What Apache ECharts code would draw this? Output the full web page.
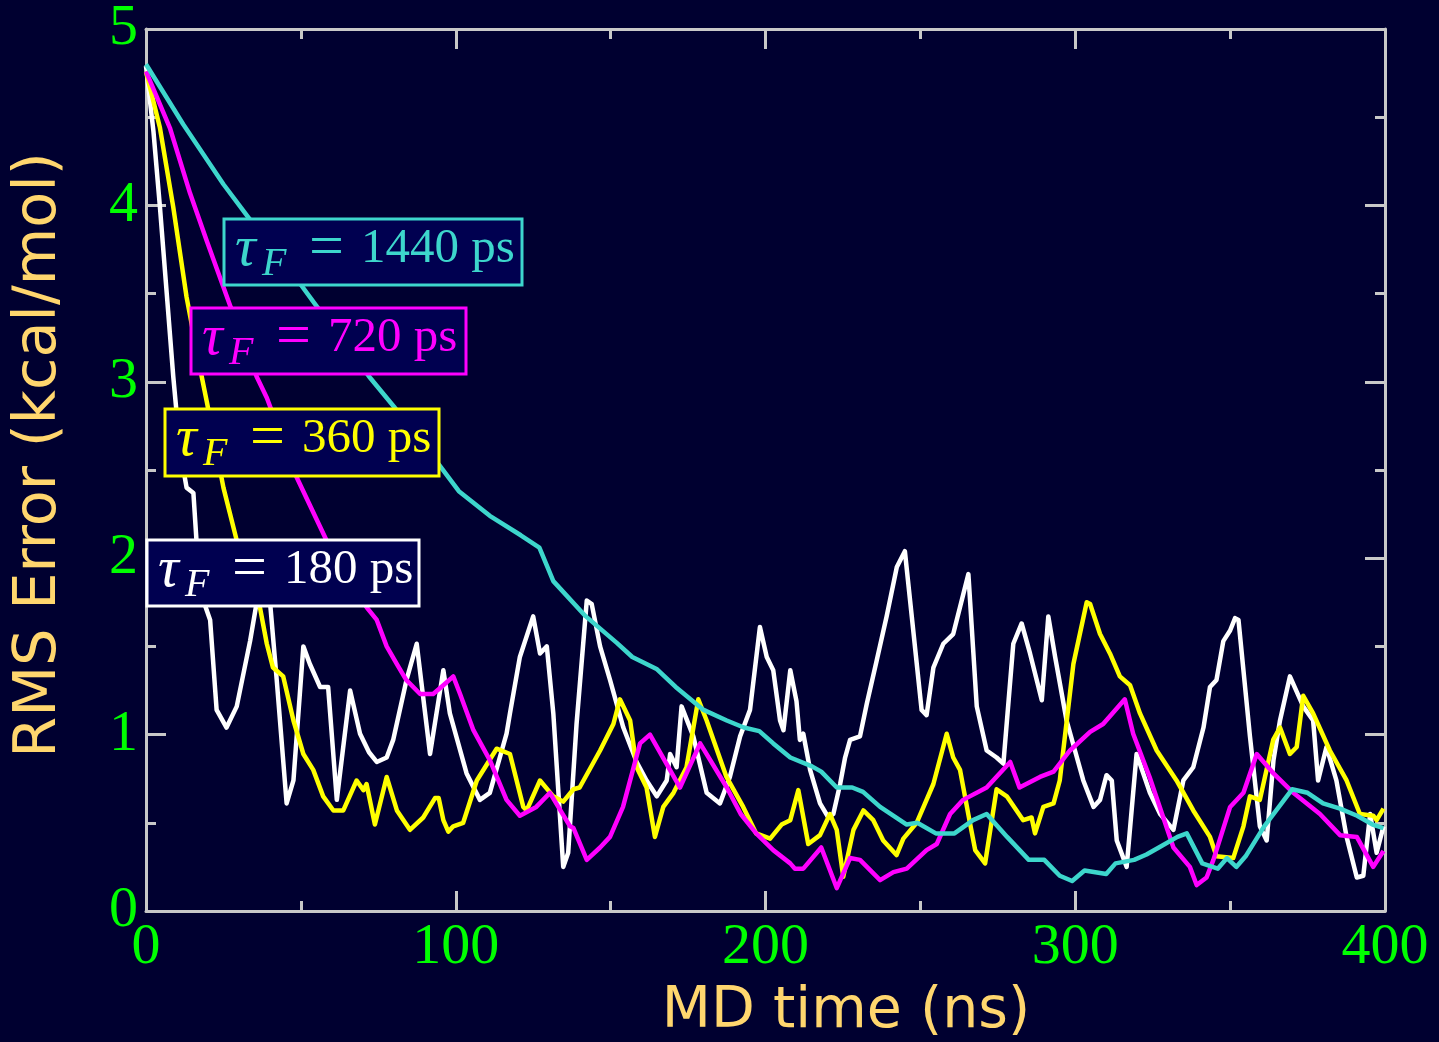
<!DOCTYPE html>
<html><head><meta charset="utf-8">
<script src="https://cdn.jsdelivr.net/npm/echarts@6/dist/echarts.min.js"></script>
<style>html,body{margin:0;padding:0;background:#000030;}#c{width:1439px;height:1042px;}</style>
</head><body><div id="c"></div>
<script>
// MD time (ns), RMS error (kcal/mol) pairs
const tau180 = [[0,4.79],[2.4,4.42],[4.5,3.99],[6.7,3.5],[8.8,3.03],[11,2.61],[13.1,2.4],[15.3,2.37],[16.3,2.1],[18.5,1.76],[20.7,1.65],[22.8,1.14],[26,1.04],[29.3,1.16],[33.6,1.53],[37.5,1.93],[40,1.76],[42.2,1.31],[45.4,0.61],[47.6,0.74],[50.8,1.5],[52.9,1.4],[56.2,1.27],[58.8,1.27],[61.6,0.63],[65.9,1.25],[69.1,1.005],[72,0.9],[74.5,0.845],[77.7,0.87],[79.8,0.97],[84.1,1.31],[87.4,1.515],[91.7,0.89],[96,1.365],[98.1,1.12],[103.5,0.78],[107.8,0.63],[111,0.67],[116.4,1.005],[117.5,1.12],[120.7,1.44],[125,1.67],[127.2,1.46],[129.4,1.5],[131.5,1.12],[134.7,0.25],[136.3,0.33],[139,1.06],[142.3,1.76],[143.9,1.74],[146.6,1.5],[149.8,1.31],[154.1,1.04],[158.4,0.845],[161.6,0.74],[164.9,0.65],[168.1,0.74],[169.2,0.89],[171.3,0.815],[172.9,1.16],[176.7,0.99],[181,0.67],[185.3,0.61],[188.5,0.76],[191.8,0.99],[195,1.14],[198.2,1.61],[200.4,1.44],[202.5,1.365],[204.7,1.08],[205.8,1.025],[208,1.365],[210,1.19],[211.1,0.97],[212.2,1.005],[214.4,0.8],[217.6,0.61],[220.3,0.53],[221.9,0.55],[224.1,0.72],[225.7,0.87],[227.3,0.97],[230.5,0.99],[232.7,1.175],[235.9,1.42],[239.1,1.67],[242.4,1.95],[245,2.04],[247.7,1.59],[250.4,1.14],[252,1.11],[254.2,1.38],[257.4,1.515],[260.6,1.57],[265.5,1.91],[268.2,1.16],[271.4,0.91],[274.6,0.87],[276.8,0.835],[280,1.515],[282.7,1.63],[285.4,1.46],[289.2,1.195],[291.3,1.67],[293.5,1.44],[297.2,1.08],[302.6,0.74],[305.9,0.59],[308,0.63],[310.1,0.77],[311.8,0.74],[313.4,0.4],[316.6,0.25],[319.8,0.89],[324.1,0.67],[327.4,0.55],[331.7,0.46],[334.9,0.74],[338.1,0.815],[341.4,1.04],[343.5,1.27],[345.6,1.31],[347.8,1.53],[350,1.59],[351.6,1.66],[352.7,1.65],[356.4,0.99],[359.6,0.48],[361.8,0.4],[364,0.855],[366.1,1.08],[369.3,1.33],[373.6,1.16],[376.8,1.08],[378.4,0.74],[381.1,0.93],[384.3,0.74],[387.6,0.42],[390.9,0.19],[393,0.2],[395.2,0.55],[397.3,0.33],[399.5,0.48]];
const tau360 = [[0,4.76],[4.5,4.44],[8.8,3.99],[13.1,3.48],[17.4,3.08],[19.6,2.89],[25,2.4],[29.3,2.1],[33,1.9],[36.8,1.72],[39,1.515],[41,1.38],[44.3,1.33],[47.6,1.08],[50.8,0.89],[54,0.8],[57.2,0.65],[60.5,0.57],[63.7,0.57],[68,0.74],[70.2,0.685],[71.2,0.72],[73.9,0.49],[77.7,0.76],[81,0.57],[85.2,0.46],[89.5,0.53],[93.3,0.64],[94.5,0.64],[96,0.515],[97.6,0.45],[99.2,0.48],[102.4,0.5],[106.8,0.74],[113.2,0.92],[117.5,0.89],[121.8,0.59],[122.9,0.57],[127.2,0.74],[131.5,0.65],[134.7,0.62],[138,0.69],[140,0.7],[146.6,0.91],[150.9,1.06],[153,1.2],[156.3,1.08],[158.4,0.815],[161.6,0.7],[164.3,0.42],[167,0.59],[170.3,0.67],[174.5,0.815],[178.3,1.2],[181,1.08],[183.2,0.97],[187.4,0.76],[192.8,0.59],[197,0.44],[201.5,0.41],[205.2,0.49],[208,0.515],[210.6,0.685],[213.8,0.38],[217.6,0.43],[220.8,0.55],[223,0.46],[225.1,0.194],[228.4,0.46],[231.6,0.57],[234.8,0.515],[238,0.4],[242.3,0.317],[244.5,0.41],[248.8,0.5],[254.2,0.72],[258.5,1.005],[260.6,0.87],[262.8,0.8],[266,0.5],[267.7,0.345],[270.9,0.27],[274.6,0.69],[277.9,0.65],[283.2,0.515],[285.9,0.53],[287,0.44],[289.7,0.59],[293,0.61],[295,0.74],[299.4,1.4],[303.7,1.75],[304.8,1.74],[308,1.57],[311.2,1.46],[314.4,1.33],[317.7,1.28],[320.9,1.12],[326.3,0.91],[332.7,0.74],[338.1,0.57],[343.5,0.42],[345.6,0.31],[351,0.3],[354.3,0.48],[356.4,0.65],[359.6,0.63],[363.9,0.97],[366.1,1.04],[369.3,0.89],[371.5,0.93],[373.6,1.22],[376.8,1.12],[382.2,0.91],[387.6,0.74],[391.9,0.55],[396.2,0.54],[397.3,0.515],[399.5,0.58]];
const tau720 = [[0,4.76],[7.7,4.44],[14.2,4.07],[19.6,3.8],[27,3.44],[35.7,3.03],[39,2.91],[48.6,2.46],[58.3,2.1],[71.3,1.72],[74.5,1.65],[77.7,1.5],[81,1.4],[84,1.31],[88.5,1.23],[92.7,1.23],[96,1.28],[99.2,1.33],[101.4,1.23],[105.7,1.025],[111,0.855],[116.4,0.63],[120.7,0.54],[126,0.59],[130.4,0.67],[136.9,0.48],[138,0.47],[142.3,0.29],[146.6,0.36],[149.8,0.42],[154,0.59],[159.5,0.95],[162.7,1.0],[172.4,0.7],[178.9,0.95],[187.5,0.7],[192,0.55],[197,0.44],[202.5,0.345],[208,0.27],[209.5,0.24],[212.2,0.24],[218,0.36],[223,0.13],[227.3,0.3],[230.5,0.29],[237,0.175],[241.3,0.22],[245.6,0.24],[252,0.345],[255.3,0.38],[259.6,0.55],[263.8,0.63],[271.4,0.7],[279,0.845],[282,0.7],[288.6,0.76],[293,0.79],[298.3,0.91],[304.8,1.015],[309,1.06],[316,1.2],[318.7,1.005],[324,0.76],[331.7,0.36],[337,0.25],[339.2,0.147],[342.4,0.19],[344.6,0.29],[350,0.59],[354.3,0.67],[358.6,0.89],[364,0.78],[370.4,0.67],[379,0.55],[385.5,0.43],[390.9,0.42],[396.2,0.25],[399.5,0.34]];
const tau1440 = [[0,4.8],[12,4.46],[25,4.12],[34,3.91],[50,3.55],[55,3.43],[72,3.03],[80,2.86],[95,2.52],[101,2.38],[111,2.24],[121,2.13],[127,2.06],[131.5,1.87],[142,1.67],[152,1.52],[157,1.44],[165,1.37],[171,1.27],[180,1.14],[187.5,1.08],[193,1.04],[198,1.02],[202.5,0.95],[208,0.87],[215,0.82],[218,0.79],[223,0.7],[228,0.7],[231.5,0.675],[237,0.59],[245.6,0.49],[249,0.5],[255,0.44],[261,0.44],[267,0.515],[271.4,0.55],[278,0.42],[285,0.29],[290,0.29],[295,0.2],[299,0.17],[303,0.23],[310,0.21],[313,0.27],[319,0.29],[323,0.32],[327,0.36],[333,0.42],[336,0.44],[341,0.27],[346,0.24],[349,0.3],[352,0.25],[355,0.31],[361,0.48],[370,0.69],[375,0.67],[380,0.61],[385.5,0.58],[391,0.54],[396,0.49],[399.5,0.47]];
const seriesNames = ['180 ps','360 ps','720 ps','1440 ps'];
const labelValues = ['180','360','720','1440'];
const xTitle = 'MD time (ns)';
const yTitle = 'RMS Error (kcal/mol)';

const colors = ['#ffffff','#ffff00','#ff00ff','#3dd6cc'];
const dataSets = [tau180, tau360, tau720, tau1440];
// label box geometry (style, px)
const boxes = [
  {x:147, y:540, w:272, h:66},
  {x:165, y:409, w:274, h:67},
  {x:191, y:308, w:275, h:66},
  {x:224, y:219, w:298, h:66}
];
const serif = '"Liberation Serif", "DejaVu Serif", serif';
const sans = '"DejaVu Sans", sans-serif';
const titleColor = '#ffd66e';
const graphics = [];
boxes.forEach((b, i) => {
  const Z = 100;
  graphics.push(
    {type:'rect', z:Z, shape:{x:b.x, y:b.y, width:b.w, height:b.h}, style:{fill:'#000050', stroke:colors[i], lineWidth:3}},
    {type:'text', z:Z+1, x:b.x+11, y:b.y+31, style:{text:'τ', fontFamily:serif, fontStyle:'italic', fontSize:58, fill:colors[i], verticalAlign:'middle', align:'left'}},
    {type:'text', z:Z+1, x:b.x+38, y:b.y+45, style:{text:'F', fontFamily:serif, fontStyle:'italic', fontSize:40, fill:colors[i], verticalAlign:'middle', align:'left'}},
    {type:'text', z:Z+1, x:b.x+85, y:b.y+31, style:{text:'=', fontFamily:serif, fontSize:62, fill:colors[i], verticalAlign:'middle', align:'left'}},
    {type:'text', z:Z+1, x:b.x+137, y:b.y+30, style:{text:labelValues[i] + ' ps', fontFamily:serif, fontSize:49, fill:colors[i], verticalAlign:'middle', align:'left'}}
  );
});
graphics.push(
  {type:'text', z:50, x:846, y:1012, style:{text:xTitle, fontFamily:sans, fontSize:57, fill:titleColor, align:'center', verticalAlign:'middle'}},
  {type:'text', z:50, x:40, y:455, rotation:Math.PI/2, style:{text:yTitle, fontFamily:sans, fontSize:59, fill:titleColor, align:'center', verticalAlign:'middle'}}
);

const frame = {color:'#c8c8c8', width:3};
function axisCommon(show) {
  return {
    axisLine:{show:true, onZero:false, lineStyle:frame},
    axisTick:{show:true, inside:true, length:20, lineStyle:frame},
    minorTick:{show:true, splitNumber:2, length:10, lineStyle:frame},
    splitLine:{show:false},
    axisLabel:{show:show, color:'#00ff00', fontFamily:serif, fontSize:58, margin:8}
  };
}
const chart = echarts.init(document.getElementById('c'));
chart.setOption({
  backgroundColor:'#000030',
  animation:false,
  grid:{left:146, right:54, top:28, bottom:131},
  xAxis:[
    Object.assign({type:'value', min:0, max:400, interval:100, position:'bottom'}, axisCommon(true)),
    Object.assign({type:'value', min:0, max:400, interval:100, position:'top'}, axisCommon(false))
  ],
  yAxis:[
    Object.assign({type:'value', min:0, max:5, interval:1, position:'left'}, axisCommon(true)),
    Object.assign({type:'value', min:0, max:5, interval:1, position:'right'}, axisCommon(false))
  ],
  series: dataSets.map((d, i) => ({
    name: seriesNames[i], type:'line', data:d, xAxisIndex:0, yAxisIndex:0,
    showSymbol:false, symbol:'none', clip:true,
    lineStyle:{color:colors[i], width:4.5, join:'round'},
    itemStyle:{color:colors[i]}
  })),
  graphic: graphics
});
</script></body></html>
